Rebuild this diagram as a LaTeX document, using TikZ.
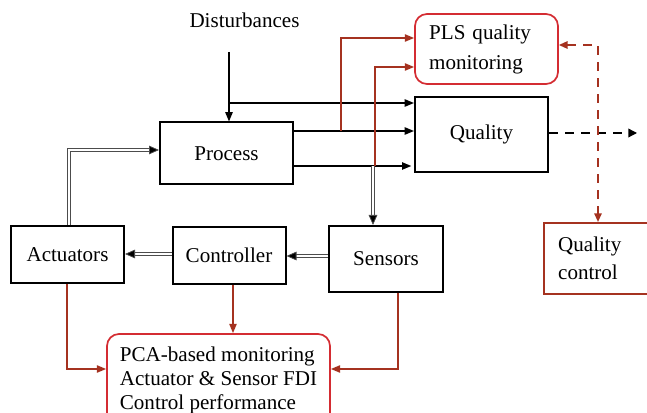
\documentclass[tikz,border=0pt]{standalone}
\usepackage{fontspec}
\setmainfont{Liberation Serif}
\usetikzlibrary{arrows.meta}
\definecolor{boxred}{RGB}{212,44,50}
\definecolor{wirered}{RGB}{165,50,32}

\begin{document}
\begin{tikzpicture}[x=0.75pt,y=-0.75pt,
  font=\fontsize{15.8}{19}\selectfont,
  tip/.style={-{Triangle[length=7pt,width=5.5pt]}},
  blk/.style={draw=black, line width=1.5pt, inner sep=0pt},
  monbox/.style={draw=boxred, line width=1.3pt, rounded corners=9pt, inner sep=0pt, align=left},
  sig/.style={tip, draw=black, line width=1.1pt},
  dbl/.style={draw=black!70, line width=0.6pt, double=white, double distance=1.4pt,
              -{Triangle[length=7.5pt,width=6.5pt,fill=black]}},
  mon/.style={tip, draw=wirered, line width=1.1pt},
  dashsig/.style={draw=black, line width=1.3pt, dash pattern=on 6.5pt off 5.5pt},
  dashmon/.style={draw=wirered, line width=1.3pt, dash pattern=on 6.5pt off 5.5pt}]

\useasboundingbox (0,0) rectangle (647,413);

% blocks of the loop
\node[blk, minimum width=99.75pt, minimum height=46.5pt] (process) at (226.5,153.5) {Process};
\node[blk, minimum width=84.75pt, minimum height=42.75pt] (act) at (67.5,254.5) {Actuators};
\node[blk, minimum width=84.75pt, minimum height=42.75pt] (ctrl) at (229,255.5) {Controller};
\node[blk, minimum width=85.5pt, minimum height=49.5pt] (sens) at (386,259) {Sensors\hspace{4pt}};
\node[blk, minimum width=99.75pt, minimum height=56.25pt] (quality) at (481.5,134.5) {Quality\hspace{6pt}};

% monitoring and quality control blocks
\node[monbox, minimum width=107.25pt, minimum height=52.5pt, text width=86pt,
      font=\fontsize{15.8}{22.5}\selectfont] (pls) at (486.5,49) {PLS quality\\monitoring};
\node[draw=wirered, line width=1.5pt, inner sep=0pt, minimum width=83pt, minimum height=53.25pt,
      align=left, font=\fontsize{15.8}{21}\selectfont, text width=62pt] (qc) at (599.5,258.5) {Quality\\control};
\node[monbox, minimum width=167.25pt, minimum height=69pt,
      font=\fontsize{15.8}{18}\selectfont] (pca) at (218.5,380)
      {PCA-based monitoring\\Actuator \& Sensor FDI\\Control performance};

\node (dist) at (244.5,20) {Disturbances};

% disturbances into the process and the quality
\coordinate (dtop) at (229,52);
\coordinate (dsplit) at (229,103);
\draw[sig] (dtop) -- (dtop |- process.north);
\draw[sig] (dsplit) -- (quality.west |- dsplit);

% process outputs to the quality
\draw[sig] (process.east |- 0,131) -- (quality.west |- 0,131);
\draw[sig] (process.east |- 0,166) -- ([xshift=-2pt]quality.west |- 0,166);

% loop: sensors -> controller -> actuators -> process
\draw[dbl] (373,166) -- (373,0 |- sens.north);
\draw[dbl] (sens.west |- 0,256) -- (ctrl.east |- 0,256);
\draw[dbl] (ctrl.west |- 0,254) -- (act.east |- 0,254);
\draw[dbl] (69,0 |- act.north) -- (69,150) -- (process.west |- 0,150);

% signals into the PLS monitor
\draw[mon] (341,131) -- (341,38) -- (pls.west |- 0,38);
\draw[mon] (375,166) -- (375,67) -- (pls.west |- 0,67);

% signals into the PCA monitor
\draw[mon] (67,0 |- act.south) -- (67,369) -- (pca.west |- 0,369);
\draw[mon] (233,0 |- ctrl.south) -- (233,0 |- pca.north);
\draw[mon] (398,0 |- sens.south) -- (398,369) -- (pca.east |- 0,369);

% quality output and quality control loop
\coordinate (qout) at (637,133);
\draw[dashsig] (quality.east |- qout) -- ([xshift=-4pt]qout);
\draw[draw=black, -{Triangle[length=6.5pt,width=6.5pt]}, line width=1pt] ([xshift=-5pt]qout) -- (qout);
\draw[dashmon, {Triangle[length=6.5pt,width=5.5pt]}-{Triangle[length=6.5pt,width=5.5pt]}]
  (pls.east |- 0,45) -- (598,45) -- (598,0 |- qc.north);

\end{tikzpicture}
\end{document}
